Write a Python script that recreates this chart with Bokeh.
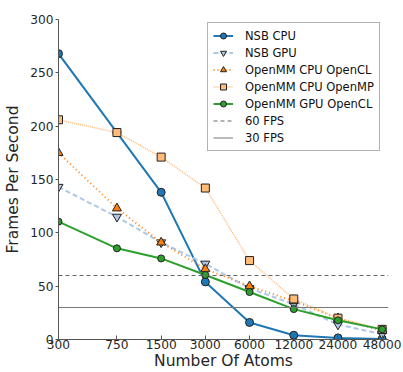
from bokeh.plotting import figure
from bokeh.models import FixedTicker, BasicTickFormatter, Range1d, Legend
from bokeh.embed import file_html
from bokeh.resources import INLINE

atoms = [300, 750, 1500, 3000, 6000, 12000, 24000, 48000]
nsb_cpu = [268, 194, 138, 54, 16, 4, 1.5, 0.5]
nsb_gpu = [143, 115, 91, 71, 48, 33, 14, 5]
omm_cpu_opencl = [175, 123, 91, 66, 50, 36, 20, 8]
omm_cpu_openmp = [206, 194, 171, 142, 74, 38, 20, 9.5]
omm_gpu_opencl = [110.5, 85.5, 76, 60.5, 44.5, 28.5, 18, 9.5]
fps_levels = [60, 30]
fps_labels = ["60 FPS", "30 FPS"]
y_ticks = [0, 50, 100, 150, 200, 250, 300]
x_title = "Number Of Atoms"
y_title = "Frames Per Second"

x_start, x_end = 300, 53000

p = figure(width=403, height=372, x_axis_type="log",
           x_range=Range1d(x_start, x_end), y_range=Range1d(0, 300),
           output_backend="svg", toolbar_location=None,
           min_border_left=58, min_border_right=15, min_border_top=19, min_border_bottom=33)
p.xgrid.visible = False
p.ygrid.visible = False
p.outline_line_color = None
p.background_fill_color = "white"

FONT = "DejaVu Sans"
for ax in (p.xaxis[0], p.yaxis[0]):
    ax.axis_line_color = "#555555"
    ax.major_tick_line_color = "#555555"
    ax.minor_tick_line_color = None
    ax.major_label_text_font = FONT
    ax.major_label_text_font_size = "12.2px"
    ax.major_label_text_color = "#262626"
    ax.axis_label_text_font = FONT
    ax.axis_label_text_font_size = "15.5px"
    ax.axis_label_text_font_style = "normal"
    ax.axis_label_text_color = "#262626"

p.xaxis.ticker = FixedTicker(ticks=atoms)
p.xaxis.formatter = BasicTickFormatter(use_scientific=False)
p.xaxis.major_tick_in = 4
p.xaxis.major_tick_out = 0
p.xaxis.major_label_standoff = 0
p.xaxis.axis_label = x_title
p.xaxis.axis_label_standoff = 0

p.yaxis.ticker = FixedTicker(ticks=y_ticks)
p.yaxis.major_tick_in = 0
p.yaxis.major_tick_out = 3
p.yaxis.major_label_standoff = 2
p.yaxis.axis_label = y_title
p.yaxis.axis_label_standoff = 5

items = []
r1 = p.line(atoms, nsb_cpu, line_color="#1f77b4", line_width=2)
r1m = p.scatter(atoms, nsb_cpu, marker="circle", size=8, fill_color="#1f77b4", line_color="#222222")
items.append(("NSB CPU", [r1, r1m]))

r2 = p.line(atoms, nsb_gpu, line_color="#aec7e8", line_width=2, line_dash="5 3")
r2m = p.scatter(atoms, nsb_gpu, marker="inverted_triangle", size=9, fill_color="#aec7e8", line_color="#222222")
items.append(("NSB GPU", [r2, r2m]))

r3 = p.line(atoms, omm_cpu_opencl, line_color="#ff7f0e", line_width=2, line_dash="1 3")
r3m = p.scatter(atoms, omm_cpu_opencl, marker="triangle", size=9, fill_color="#ff7f0e", line_color="#222222")
items.append(("OpenMM CPU OpenCL", [r3, r3m]))

r4 = p.line(atoms, omm_cpu_openmp, line_color="#ffbb78", line_width=1.5, line_dash="1 1")
r4m = p.scatter(atoms, omm_cpu_openmp, marker="square", size=8, fill_color="#ffbb78", line_color="#222222")
items.append(("OpenMM CPU OpenMP", [r4, r4m]))

r5 = p.line(atoms, omm_gpu_opencl, line_color="#2ca02c", line_width=2)
r5m = p.scatter(atoms, omm_gpu_opencl, marker="circle", size=7, fill_color="#2ca02c", line_color="#222222")
items.append(("OpenMM GPU OpenCL", [r5, r5m]))

r6 = p.line([x_start, x_end], [fps_levels[0]] * 2, line_color="#666666", line_width=1, line_dash="4 3")
items.append((fps_labels[0], [r6]))
r7 = p.line([x_start, x_end], [fps_levels[1]] * 2, line_color="#777777", line_width=1)
items.append((fps_labels[1], [r7]))

legend = Legend(items=items, location=(149, 188))
legend.label_text_font = FONT
legend.label_text_font_size = "11.5px"
legend.label_text_color = "#111111"
legend.glyph_height = 15
legend.glyph_width = 20
legend.label_height = 15
legend.spacing = 2
legend.padding = 5
legend.margin = 0
legend.label_standoff = 12
legend.border_line_color = "#666666"
legend.border_line_width = 1
legend.background_fill_color = "white"
legend.background_fill_alpha = 1
p.add_layout(legend, "center")

open("out.html", "w").write(file_html(p, INLINE))
